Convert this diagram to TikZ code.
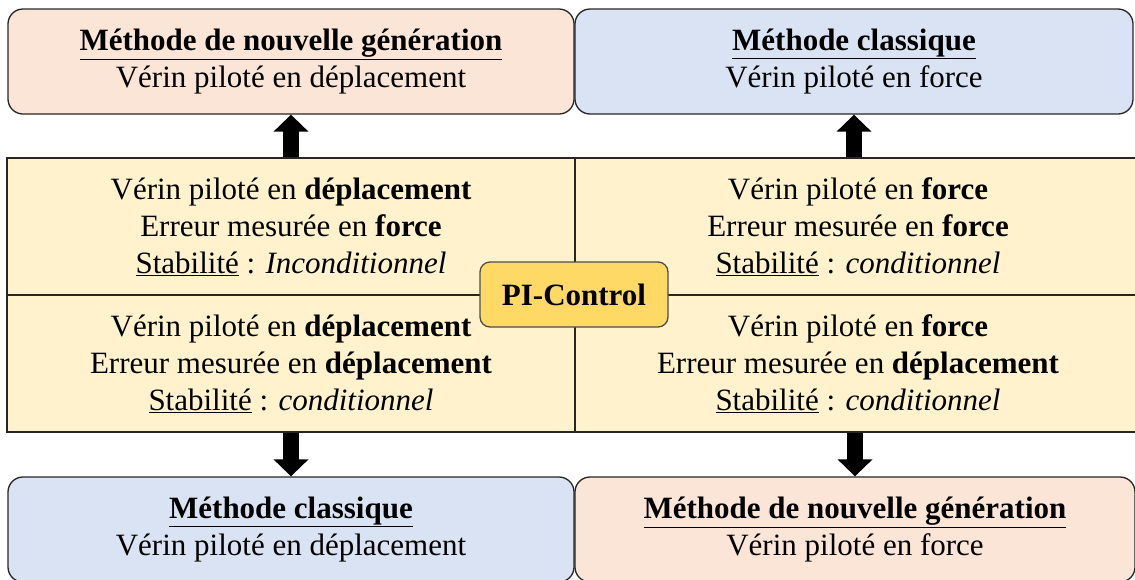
\documentclass[tikz,border=0pt]{standalone}
\usepackage{fontspec}
\setmainfont{Liberation Serif}
\usetikzlibrary{positioning,arrows.meta}

\definecolor{peach}{HTML}{FBE5D6}
\definecolor{paleblue}{HTML}{DAE3F3}
\definecolor{cream}{HTML}{FFF2CC}
\definecolor{gold}{HTML}{FFD966}

\begin{document}
\begin{tikzpicture}[x=1pt, y=-1pt,
  every node/.style={font=\fontsize{31}{37}\selectfont, align=center, inner sep=0pt},
  meth/.style={draw=black!85, line width=1.3pt, rounded corners=15pt, minimum height=105pt,
               execute at begin node={\rule{0pt}{29pt}}},
  cell/.style={draw=black!85, line width=1.3pt, fill=cream, minimum width=567pt, minimum height=137pt},
  pic/.style={draw=black!70, line width=1.3pt, fill=gold, rounded corners=10pt,
              minimum width=188pt, minimum height=65pt, font=\fontsize{31}{37}\selectfont\bfseries},
  bigarr/.style={line width=16pt, -{Triangle[length=17pt,width=34pt]}}
]
\useasboundingbox (0,0) rectangle (1135,579);

% result boxes
\node[meth, fill=peach, minimum width=566pt] (mtl) at (291,61.5)
  {\textbf{\underline{Méthode de nouvelle génération}}\\Vérin piloté en déplacement};
\node[meth, fill=paleblue, minimum width=558pt] (mtr) at (854,61.5)
  {\textbf{\underline{Méthode classique}}\\Vérin piloté en force};
\node[meth, fill=paleblue, minimum width=566pt] (mbl) at (291,529.5)
  {\textbf{\underline{Méthode classique}}\\Vérin piloté en déplacement};
\node[meth, fill=peach, minimum width=560pt] (mbr) at (855,529.5)
  {\textbf{\underline{Méthode de nouvelle génération}}\\Vérin piloté en force};

% grid of cases
\node[cell, minimum width=568pt] (tl) at (291,226.5)
  {Vérin piloté en \textbf{déplacement}\\Erreur mesurée en \textbf{force}\\\underline{Stabilité} : \textit{Inconditionnel}};
\node[cell, minimum width=566pt] (tr) at (858,226.5)
  {Vérin piloté en \textbf{force}\\Erreur mesurée en \textbf{force}\\\underline{Stabilité} : \textit{conditionnel}};
\node[cell, minimum width=568pt] (bl) at (291,363.5)
  {Vérin piloté en \textbf{déplacement}\\Erreur mesurée en \textbf{déplacement}\\\underline{Stabilité} : \textit{conditionnel}};
\node[cell, minimum width=566pt] (br) at (858,363.5)
  {Vérin piloté en \textbf{force}\\Erreur mesurée en \textbf{déplacement}\\\underline{Stabilité} : \textit{conditionnel}};

\node[pic] (pi) at (574,294.5) {PI-Control};

% arrows
\draw[bigarr] (mtl.south |- tl.north) -- (mtl.south);
\draw[bigarr] (mtr.south |- tr.north) -- (mtr.south);
\draw[bigarr] (mbl.north |- bl.south) -- (mbl.north);
\draw[bigarr] (mbr.north |- br.south) -- (mbr.north);
\end{tikzpicture}
\end{document}
